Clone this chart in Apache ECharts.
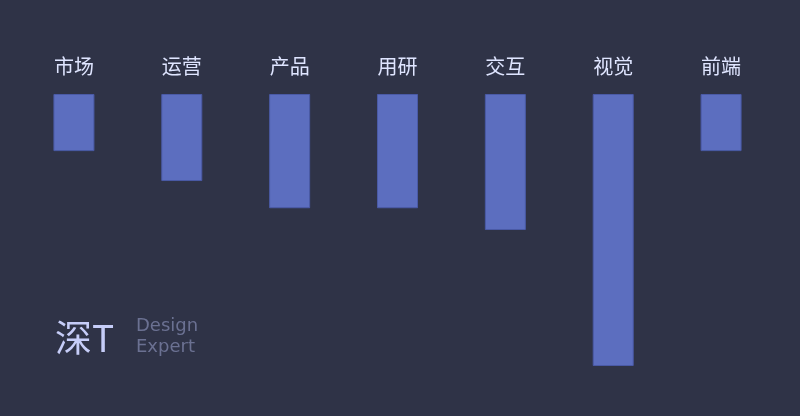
<!DOCTYPE html>
<html>
<head>
<meta charset="utf-8">
<script src="https://cdn.jsdelivr.net/npm/echarts@6/dist/echarts.min.js"></script>
<style>
html,body{margin:0;padding:0;background:#2f3347;}
#c{width:800px;height:416px;}
</style>
</head>
<body>
<div id="c"></div>
<script>
const categories = ['市场', '运营', '产品', '用研', '交互', '视觉', '前端'];
const values = [21, 32, 42, 42, 50, 100, 21];

const chart = echarts.init(document.getElementById('c'));
chart.setOption({
  backgroundColor: '#2f3347',
  animation: false,
  grid: { left: 20, right: 25, top: 94, bottom: 50 },
  xAxis: {
    type: 'category',
    data: categories,
    position: 'top',
    axisLine: { show: false },
    axisTick: { show: false },
    axisLabel: {
      color: '#dfe5ff',
      fontSize: 20,
      margin: 18,
      fontFamily: 'Noto Sans CJK SC'
    }
  },
  yAxis: {
    type: 'value',
    inverse: true,
    min: 0,
    max: 100,
    show: false
  },
  series: [{
    type: 'bar',
    data: values,
    barWidth: 41,
    itemStyle: {
      color: '#5c6ebf',
      borderColor: '#4a5aa6',
      borderWidth: 1
    }
  }],
  graphic: [
    {
      type: 'text',
      left: 55,
      top: 319,
      style: {
        text: '深T',
        fill: '#c6cdf8',
        fontSize: 37,
        fontFamily: 'Noto Sans CJK SC'
      }
    },
    {
      type: 'text',
      left: 136,
      top: 317,
      style: {
        text: 'Design',
        fill: '#6b7192',
        fontSize: 18,
        fontFamily: 'DejaVu Sans'
      }
    },
    {
      type: 'text',
      left: 136,
      top: 338,
      style: {
        text: 'Expert',
        fill: '#6b7192',
        fontSize: 18,
        fontFamily: 'DejaVu Sans'
      }
    }
  ]
});
</script>
</body>
</html>
